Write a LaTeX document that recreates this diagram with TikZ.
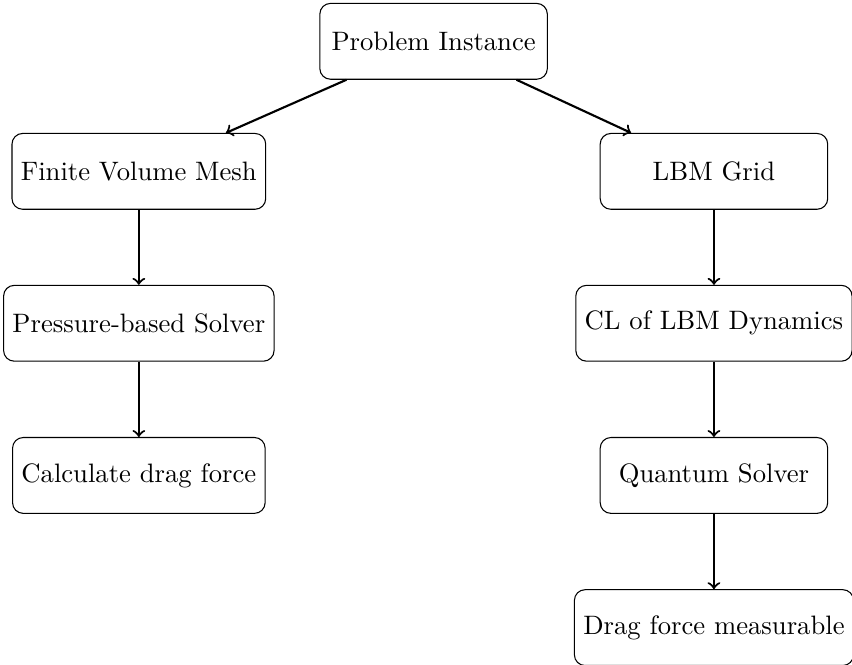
\documentclass[tikz,border=0pt]{standalone}
\begin{document}
\begin{tikzpicture}[x=1pt,y=1pt,
  box/.style={draw, rounded corners=4pt, minimum width=3cm, minimum height=1cm, inner sep=3.333pt, font=\normalsize},
  arr/.style={->, thick}]
\useasboundingbox (0,0) rectangle (319.7,-249.5);
\node[box] (pi)  at (162.7,-15.5) {Problem Instance};
\node[box] (fvm) at (52.1,-64.3) {Finite Volume Mesh};
\node[box] (lbm) at (267.9,-64.3) {LBM Grid};
\node[box] (pbs) at (52.1,-121.3) {Pressure-based Solver};
\node[box] (cl)  at (267.9,-121.3) {CL of LBM Dynamics};
\node[box] (cdf) at (52.1,-178.4) {Calculate drag force};
\node[box] (qs)  at (267.9,-178.4) {Quantum Solver};
\node[box] (dfm) at (267.9,-235.5) {Drag force measurable};
\draw[arr] (pi) -- (fvm);
\draw[arr] (pi) -- (lbm);
\draw[arr] (fvm) -- (pbs);
\draw[arr] (pbs) -- (cdf);
\draw[arr] (lbm) -- (cl);
\draw[arr] (cl) -- (qs);
\draw[arr] (qs) -- (dfm);
\end{tikzpicture}
\end{document}
